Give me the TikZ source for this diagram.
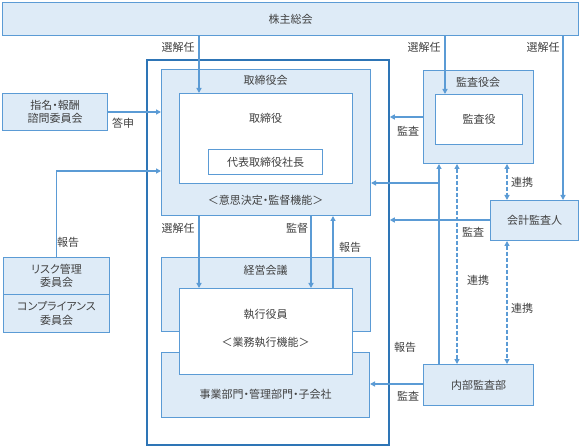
\documentclass[tikz,border=0pt]{standalone}
\usepackage{fontspec}
\setmainfont{Noto Sans CJK JP}[RawFeature=+palt]
\usepackage{tikz}
\usetikzlibrary{arrows.meta,positioning,calc}
\definecolor{boxfill}{HTML}{DEEBF7}
\definecolor{boxline}{HTML}{5B9BD5}
\definecolor{frameline}{HTML}{2E75B6}
\definecolor{txt}{HTML}{404040}
\tikzset{box/.style={draw=boxline, fill=boxfill, line width=1pt, anchor=north west, inner sep=0pt, text=txt, align=center}}
\tikzstyle{wbox}=[box, fill=white]
\tikzstyle{lbl}=[text=txt, inner sep=1pt]
\tikzstyle{arr}=[draw=boxline, line width=1.3pt, -{Triangle[length=5pt,width=5pt]}]
\tikzstyle{darr}=[arr, dash pattern=on 4pt off 2pt, {Triangle[length=5pt,width=5pt]}-{Triangle[length=5pt,width=5pt]}]

\begin{document}
\begin{tikzpicture}[x=1pt, y=-1pt, font=\fontsize{11}{13.5}\selectfont]
\useasboundingbox (0,0) rectangle (581,446);
\node[box, minimum width=576pt, minimum height=33pt] (kabu) at (2,2) {株主総会};
\node[draw=frameline, line width=1.8pt, anchor=north west, inner sep=0pt, minimum width=242pt, minimum height=385pt] (waku) at (146,59) {};
\node[box, minimum width=209pt, minimum height=146pt] (torikai) at (161,69) {};
\node[wbox, minimum width=173pt, minimum height=90pt] (tori) at (179,93) {};
\node[wbox, minimum width=114pt, minimum height=25pt] (daihyo) at (208,149) {代表取締役社長};
\node[lbl] (ltorikai) at (265.5,80) {取締役会};
\node[lbl] (ltori) at (265.5,118) {取締役};
\node[lbl] (lkino1) at (265.5,200) {＜意思決定・監督機能＞};
\node[box, minimum width=105pt, minimum height=37pt] (shimei) at (2,93) {指名・報酬\\諮問委員会};
\node[box, minimum width=106pt, minimum height=37pt] (risk) at (3,257) {リスク管理\\委員会};
\node[box, minimum width=106pt, minimum height=38pt] (comp) at (3,294) {コンプライアンス\\委員会};
\node[box, minimum width=209pt, minimum height=74pt] (keiei) at (161,257) {};
\node[box, minimum width=208pt, minimum height=65pt] (jigyo) at (161,352) {};
\node[wbox, minimum width=173pt, minimum height=86pt] (shikko) at (179,288) {};
\node[lbl] (lkeiei) at (265.5,270) {経営会議};
\node[lbl] (lshikko) at (265.5,314) {執行役員};
\node[lbl] (lkino2) at (265.5,342) {＜業務執行機能＞};
\node[lbl] (ljigyo) at (265.5,394) {事業部門・管理部門・子会社};
\node[box, minimum width=110pt, minimum height=93pt] (kansakai) at (423,70) {};
\node[wbox, minimum width=87pt, minimum height=50pt] (kansa) at (435,94) {監査役};
\node[lbl] (lkansakai) at (478,82) {監査役会};
\node[box, minimum width=88pt, minimum height=40pt] (kaikei) at (490,200) {会計監査人};
\node[box, minimum width=110pt, minimum height=41pt] (naibu) at (423,364) {内部監査部};

\coordinate (x1) at (199,0);
\coordinate (x2) at (311,0);
\coordinate (x3) at (333,0);
\coordinate (x4) at (445,0);
\coordinate (x5) at (563,0);
\coordinate (x6) at (439,0);
\coordinate (x7) at (457,0);
\coordinate (x8) at (507,0);
\coordinate (x9) at (56,0);
\coordinate (y1) at (0,117);
\coordinate (y2) at (0,220);
\coordinate (y3) at (0,183);
\coordinate (y4) at (0,171);
\coordinate (y5) at (0,384);

\draw[arr] (kabu.south -| x1) -- (tori.north -| x1);
\draw[arr] (kabu.south -| x4) -- (kansa.north -| x4);
\draw[arr] (kabu.south -| x5) -- (kaikei.north -| x5);
\draw[arr] (shimei.east) -- (shimei.east -| torikai.west);
\draw[arr] (risk.north) |- (torikai.west |- y4);
\draw[arr] (torikai.south -| x1) -- (shikko.north -| x1);
\draw[arr] (torikai.south -| x2) -- (shikko.north -| x2);
\draw[arr] (shikko.north -| x3) -- (torikai.south -| x3);
\draw[arr] (kansakai.west |- y1) -- (waku.east |- y1);
\draw[arr] (kaikei.west |- y2) -- (waku.east |- y2);
\draw[arr] (naibu.north -| x6) -- (kansakai.south -| x6);
\draw[arr] (naibu.north -| x6) |- (torikai.east |- y3);
\draw[arr] (naibu.west |- y5) -- (jigyo.east |- y5);
\draw[darr] (kansakai.south -| x8) -- (kaikei.north -| x8);
\draw[darr] (kansakai.south -| x7) -- (naibu.north -| x7);
\draw[darr] (kaikei.south -| x8) -- (naibu.north -| x8);

\node[lbl] (t1) at (178,47) {選解任};
\node[lbl] (t2) at (424,47) {選解任};
\node[lbl] (t3) at (543,47) {選解任};
\node[lbl] (t4) at (123,123) {答申};
\node[lbl] (t5) at (68,242) {報告};
\node[lbl] (t6) at (178,228) {選解任};
\node[lbl] (t7) at (297,228) {監督};
\node[lbl] (t8) at (350,247) {報告};
\node[lbl] (t9) at (408,131) {監査};
\node[lbl] (t10) at (473,232) {監査};
\node[lbl] (t11) at (522,182) {連携};
\node[lbl] (t12) at (478,280) {連携};
\node[lbl] (t13) at (522,308) {連携};
\node[lbl] (t14) at (405,347) {報告};
\node[lbl] (t15) at (408,396) {監査};
\end{tikzpicture}
\end{document}
